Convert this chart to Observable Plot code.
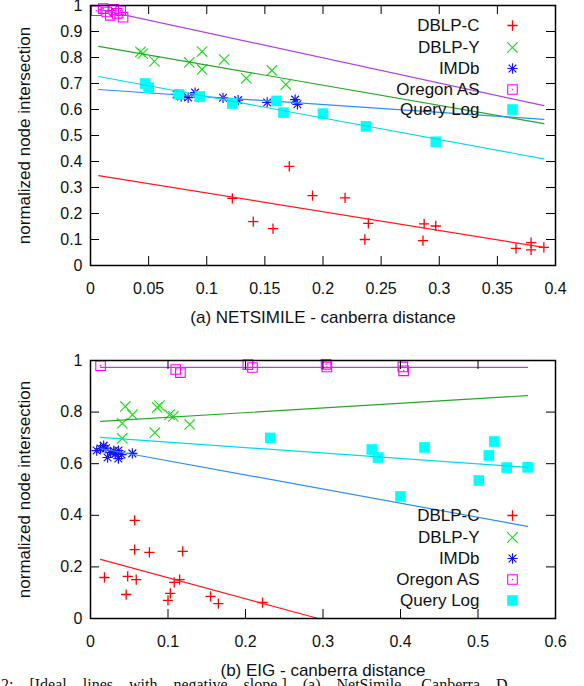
<!DOCTYPE html>
<html><head><meta charset="utf-8">
<script src="https://cdn.jsdelivr.net/npm/d3@7"></script>
<script src="https://cdn.jsdelivr.net/npm/@observablehq/plot@0.6"></script>
<style>
html,body{margin:0;padding:0;background:#fff;width:584px;height:686px;overflow:hidden}
#wrap{position:relative;width:584px;height:686px;overflow:hidden}
#top{position:absolute;left:0;top:0}
#bot{position:absolute;left:0;top:330px}
#cap{position:absolute;left:1px;top:677px;font-family:"Liberation Serif",serif;font-size:16px;line-height:16px;white-space:nowrap;color:#111;word-spacing:12px}
</style></head><body>
<div id="wrap"><div id="top"></div><div id="bot"></div><div id="cap"></div></div>
<script>
// ---------- shared ----------
const seriesNames = ["DBLP-C", "DBLP-Y", "IMDb", "Oregon AS", "Query Log"];
const yLabel = "normalized node intersection";
const captionText = "2:  [Ideal lines with negative slope.] (a) NetSimile, Canberra D";

// ---------- panel (a) ----------
const topXLabel = "(a) NETSIMILE - canberra distance";
const topXTicks = [0, 0.05, 0.1, 0.15, 0.2, 0.25, 0.3, 0.35, 0.4];
const topXTickLabels = ["0", "0.05", "0.1", "0.15", "0.2", "0.25", "0.3", "0.35", "0.4"];
const topYTicks = [0, 0.1, 0.2, 0.3, 0.4, 0.5, 0.6, 0.7, 0.8, 0.9, 1];
const topYTickLabels = ["0", "0.1", "0.2", "0.3", "0.4", "0.5", "0.6", "0.7", "0.8", "0.9", "1"];

const topDblpC = [[0.122,0.258],[0.140,0.169],[0.157,0.142],[0.171,0.381],[0.191,0.269],[0.219,0.260],[0.239,0.162],[0.236,0.100],[0.287,0.160],[0.297,0.152],[0.286,0.096],[0.366,0.066],[0.379,0.088],[0.379,0.060],[0.390,0.070]];
const topDblpY = [[0.043,0.822],[0.045,0.815],[0.055,0.785],[0.085,0.781],[0.096,0.823],[0.096,0.754],[0.115,0.792],[0.134,0.720],[0.156,0.750],[0.168,0.696]];
const topImdb = [[0.074,0.658],[0.078,0.650],[0.084,0.646],[0.090,0.665],[0.093,0.648],[0.114,0.645],[0.127,0.636],[0.152,0.627],[0.176,0.638],[0.178,0.620]];
const topOregon = [[0.005,0.980],[0.011,0.988],[0.014,0.975],[0.017,0.962],[0.020,0.985],[0.023,0.970],[0.026,0.980],[0.028,0.955]];
const topQuery = [[0.047,0.700],[0.050,0.684],[0.076,0.658],[0.094,0.650],[0.122,0.623],[0.160,0.633],[0.166,0.588],[0.200,0.584],[0.237,0.535],[0.297,0.476]];

const topFitX0 = [0.007, 0.007, 0.007, 0.007, 0.007];
const topFitY0 = [0.346, 0.843, 0.677, 0.985, 0.727];
const topFitX1 = [0.390, 0.390, 0.390, 0.390, 0.390];
const topFitY1 = [0.070, 0.546, 0.562, 0.615, 0.410];

// ---------- panel (b) ----------
const botXLabel = "(b) EIG - canberra distance";
const botXTicks = [0, 0.1, 0.2, 0.3, 0.4, 0.5, 0.6];
const botXTickLabels = ["0", "0.1", "0.2", "0.3", "0.4", "0.5", "0.6"];
const botYTicks = [0, 0.2, 0.4, 0.6, 0.8, 1];
const botYTickLabels = ["0", "0.2", "0.4", "0.6", "0.8", "1"];

const botDblpC = [[0.018,0.159],[0.057,0.380],[0.057,0.267],[0.076,0.256],[0.048,0.163],[0.059,0.151],[0.046,0.093],[0.100,0.070],[0.103,0.097],[0.108,0.140],[0.115,0.151],[0.119,0.260],[0.155,0.086],[0.165,0.058],[0.222,0.062]];
const botDblpY = [[0.045,0.822],[0.054,0.790],[0.041,0.756],[0.041,0.698],[0.086,0.818],[0.089,0.825],[0.083,0.720],[0.102,0.790],[0.107,0.783],[0.128,0.752]];
const botImdb = [[0.008,0.651],[0.013,0.659],[0.017,0.670],[0.020,0.660],[0.022,0.624],[0.026,0.643],[0.030,0.650],[0.032,0.638],[0.036,0.620],[0.036,0.651],[0.040,0.635],[0.054,0.640]];
const botOregon = [[0.013,0.980],[0.110,0.965],[0.116,0.953],[0.203,0.984],[0.209,0.973],[0.304,0.985],[0.305,0.975],[0.403,0.975],[0.404,0.960]];
const botQuery = [[0.232,0.700],[0.363,0.655],[0.371,0.624],[0.431,0.663],[0.400,0.473],[0.501,0.535],[0.514,0.632],[0.521,0.686],[0.537,0.585],[0.564,0.586]];

const botFitX0 = [0.013, 0.013, 0.013, 0.013, 0.013];
const botFitY0 = [0.229, 0.764, 0.659, 0.973, 0.702];
const botFitX1 = [0.294, 0.564, 0.564, 0.564, 0.564];
const botFitY1 = [0.000, 0.864, 0.357, 0.973, 0.586];

// ---------- styling ----------
const pointColors = ["#ff0000", "#22dd22", "#1414f0", "#ff00ff", "#00ffff"];
const lineColors = ["#ff1a1a", "#26a826", "#2e8ff0", "#b040e8", "#00dde6"];
const FONT = '"Liberation Sans", Arial, Helvetica, sans-serif';

function seriesMarks(i, pts, opts = {}) {
  const c = pointColors[i];
  const L = opts.legend;
  const base = L ? {frameAnchor: L.anchor, dx: L.dx, dy: L.dy} : {};
  const data = L ? [0] : pts;
  if (i === 0) return [Plot.dot(data, {...base, symbol: "plus", r: 3.4, stroke: c, strokeWidth: 1.3})];
  if (i === 1) return [Plot.dot(data, {...base, symbol: "times", r: 4.8, stroke: c, strokeWidth: 1.2})];
  if (i === 2) return [
    Plot.dot(data, {...base, symbol: "plus", r: 3.4, stroke: c, strokeWidth: 1.2}),
    Plot.dot(data, {...base, symbol: "times", r: 3.6, stroke: c, strokeWidth: 1.2})
  ];
  if (i === 3) return [
    Plot.dot(data, {...base, symbol: "square", r: 5.4, fill: "none", stroke: c, strokeWidth: 1.1}),
    Plot.dot(data, {...base, symbol: "circle", r: 0.8, fill: c, stroke: "none"})
  ];
  return [Plot.dot(data, {...base, symbol: "square", r: 6, fill: c, stroke: "none"})];
}

function panel(cfg) {
  const W = 584, ml = 90, mr = 29;
  const innerW = W - ml - mr;
  const innerH = cfg.height - cfg.mt - cfg.mb;
  const marks = [];
  cfg.series.forEach((pts, i) => {
    marks.push(...seriesMarks(i, pts));
    marks.push(Plot.line([[cfg.fitX0[i], cfg.fitY0[i]], [cfg.fitX1[i], cfg.fitY1[i]]], {stroke: lineColors[i], strokeWidth: 1.2}));
  });
  marks.push(
    Plot.tickX(cfg.xTicks, {x: d => d, insetTop: innerH - 9, stroke: "#000", strokeWidth: 1}),
    Plot.tickX(cfg.xTicks, {x: d => d, insetBottom: innerH - 9, stroke: "#000", strokeWidth: 1}),
    Plot.tickY(cfg.yTicks, {y: d => d, insetRight: innerW - 9, stroke: "#000", strokeWidth: 1}),
    Plot.tickY(cfg.yTicks, {y: d => d, insetLeft: innerW - 9, stroke: "#000", strokeWidth: 1}),
    Plot.frame({stroke: "#000", strokeWidth: 1.5}),
    Plot.axisX(cfg.xTicks, {tickSize: 0, tickPadding: 17, tickFormat: d => cfg.xTickLabels[cfg.xTicks.indexOf(d)], fontSize: 16, label: null, fill: "#111"}),
    Plot.axisY(cfg.yTicks, {tickSize: 0, tickPadding: 8, tickFormat: d => cfg.yTickLabels[cfg.yTicks.indexOf(d)], fontSize: 16, label: null, fill: "#111"}),
    Plot.text([cfg.xLabel], {text: d => d, frameAnchor: "bottom", dy: 52, lineAnchor: "middle", textAnchor: "middle", fontSize: 17, fill: "#111"}),
    Plot.text([yLabel], {text: d => d, frameAnchor: "left", rotate: -90, dx: -66, lineAnchor: "middle", textAnchor: "middle", fontSize: 17, fill: "#111"})
  );
  seriesNames.forEach((name, i) => {
    marks.push(Plot.text([name], {text: d => d, frameAnchor: cfg.legendAnchor, dx: -76, dy: cfg.legendDy[i], textAnchor: "end", lineAnchor: "middle", fontSize: 17, fill: "#111"}));
    marks.push(...seriesMarks(i, null, {legend: {anchor: cfg.legendAnchor, dx: -43, dy: cfg.legendDy[i]}}));
  });
  return Plot.plot({
    width: W, height: cfg.height,
    marginLeft: ml, marginRight: mr, marginTop: cfg.mt, marginBottom: cfg.mb,
    x: {domain: cfg.xDomain},
    y: {domain: [0, 1]},
    style: {fontFamily: FONT, background: "#fff", color: "#111", overflow: "visible"},
    marks
  });
}

document.getElementById("top").appendChild(panel({
  height: 330, mt: 5, mb: 65, xDomain: [0, 0.4],
  xTicks: topXTicks, xTickLabels: topXTickLabels, yTicks: topYTicks, yTickLabels: topYTickLabels,
  series: [topDblpC, topDblpY, topImdb, topOregon, topQuery],
  fitX0: topFitX0, fitY0: topFitY0, fitX1: topFitX1, fitY1: topFitY1,
  xLabel: topXLabel, legendAnchor: "top-right", legendDy: [20, 42, 63, 84, 104]
}));
document.getElementById("bot").appendChild(panel({
  height: 356, mt: 30, mb: 68, xDomain: [0, 0.6],
  xTicks: botXTicks, xTickLabels: botXTickLabels, yTicks: botYTicks, yTickLabels: botYTickLabels,
  series: [botDblpC, botDblpY, botImdb, botOregon, botQuery],
  fitX0: botFitX0, fitY0: botFitY0, fitX1: botFitX1, fitY1: botFitY1,
  xLabel: botXLabel, legendAnchor: "bottom-right", legendDy: [-103, -81, -60, -39, -18]
}));
document.getElementById("cap").textContent = captionText;
</script>
</body></html>
